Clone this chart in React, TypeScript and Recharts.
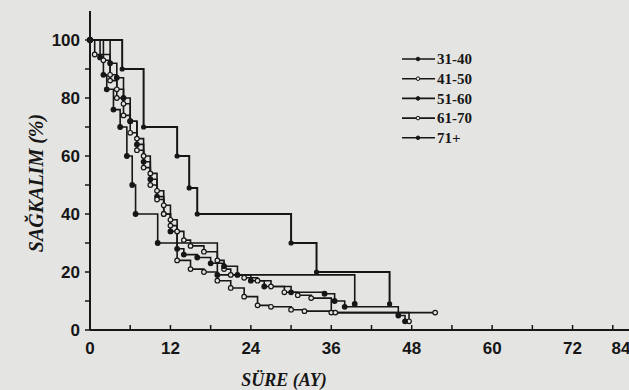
import React from 'react';
import { LineChart, Line, XAxis, YAxis, Legend } from 'recharts';

// Kaplan-Meier survival by age group (months, % surviving)
const groups = ['31-40', '41-50', '51-60', '61-70', '71+'];

const t3140 = [0, 1.5, 2, 2.5, 3.5, 4.5, 5.5, 6.3, 6.8, 10.1, 19, 39.5];
const s3140 = [100, 94, 88, 83, 76, 70, 60, 50, 40, 30, 19, 9];

const t4150 = [0, 2, 3, 4, 5, 6, 7, 8, 9, 10, 11, 12, 13, 14, 15, 17, 19, 20, 21, 23, 25, 27, 29, 31, 33, 36, 47.6];
const s4150 = [100, 93, 88, 83, 78, 72, 66, 60, 54, 48, 43, 38, 34, 31, 29, 27, 24, 21, 19, 18, 17, 15, 13, 12, 11, 6, 3];

const t5160 = [0, 3, 4, 5, 6, 7, 8, 9, 10, 11, 12, 13, 14, 16, 18, 20, 22, 24, 26, 30, 35, 36.5, 38, 46, 47];
const s5160 = [100, 92, 87, 80, 72, 64, 58, 52, 46, 40, 34, 28, 26, 25, 23, 22, 19, 17, 15, 13, 12.5, 10, 8, 5, 3];

const t6170 = [0, 0.7, 3, 4, 5, 6, 7, 8, 9, 10, 11, 12, 13, 15, 17, 19, 21, 23, 25, 27, 30, 32, 36.6, 51.5];
const s6170 = [100, 95, 86, 80, 74, 68, 62, 56, 50, 45, 40, 36, 24, 21, 20, 17, 14.5, 11.5, 8.5, 8, 7, 6.5, 6, 6];

const t71 = [0, 4.8, 8, 13, 14.8, 16, 30, 33.8, 44.7];
const s71 = [100, 90, 70, 60, 49, 40, 30, 20, 9];

const xTicks = [0, 6, 12, 18, 24, 30, 36, 42, 48, 54, 60, 66, 72, 78, 84];
const yTicks = [0, 10, 20, 30, 40, 50, 60, 70, 80, 90, 100];

const INK = '#161616';
const BG = '#e4e4e2';

const toData = (t: number[], s: number[]) => t.map((x, i) => ({ t: x, s: s[i] }));

const series = [
  { name: groups[0], data: toData(t3140, s3140), open: false, r: 2.3 },
  { name: groups[1], data: toData(t4150, s4150), open: true, r: 2.3 },
  { name: groups[2], data: toData(t5160, s5160), open: false, r: 2.3 },
  { name: groups[3], data: toData(t6170, s6170), open: true, r: 2.3 },
  { name: groups[4], data: toData(t71, s71), open: false, r: 2.0 },
];

const makeDot = (open: boolean, r: number) => (p: any) => (
  <circle
    key={`${p.index}-${p.cx}`}
    cx={p.cx}
    cy={p.cy}
    r={r}
    fill={open ? BG : INK}
    stroke={INK}
    strokeWidth={1.2}
  />
);

const XTick = (p: any) => {
  const v = p.payload.value;
  if (v % 12 !== 0) return <g />;
  const x = Math.min(p.x, 621);
  return (
    <text x={x} y={p.y} dy="0.71em" textAnchor="middle" fill={INK}
      fontFamily="'Liberation Sans', Arial, sans-serif" fontWeight="bold" fontSize={17}>
      {v}
    </text>
  );
};

const YTick = (p: any) => {
  const v = p.payload.value;
  if (v % 20 !== 0) return <g />;
  return (
    <text x={p.x} y={p.y} dy="0.36em" textAnchor="end" fill={INK}
      fontFamily="'Liberation Sans', Arial, sans-serif" fontWeight="bold" fontSize={17}>
      {v}
    </text>
  );
};

const LegendBox = () => (
  <svg width={90} height={100}>
    {series.map((s, i) => {
      const y = 10 + i * 19.7;
      return (
        <g key={s.name}>
          <line x1={2} x2={35} y1={y} y2={y} stroke={INK} strokeWidth={1.6} />
          <circle cx={18} cy={y} r={1.8} fill={s.open ? BG : INK} stroke={INK} strokeWidth={1} />
          <text x={37} y={y} dy="0.35em" fill={INK}
            fontFamily="'Liberation Serif', 'Times New Roman', serif" fontWeight="bold" fontSize={15}>
            {s.name}
          </text>
        </g>
      );
    })}
  </svg>
);

export default function App() {
  return (
    <div style={{ position: 'absolute', left: 0, top: 0, width: 629, height: 390, background: BG, overflow: 'hidden' }}>
      <LineChart width={660} height={390} margin={{ top: 11, right: 7, bottom: 30, left: 0 }}>
        <XAxis
          type="number"
          dataKey="t"
          domain={[0, 84]}
          ticks={xTicks}
          interval={0}
          allowDuplicatedCategory={false}
          height={30}
          tickSize={-5}
          tickMargin={17}
          tick={<XTick />}
          axisLine={{ stroke: INK, strokeWidth: 2 }}
          tickLine={{ stroke: INK, strokeWidth: 1.5 }}
        />
        <YAxis
          type="number"
          dataKey="s"
          domain={[0, 110]}
          ticks={yTicks}
          interval={0}
          width={90}
          tickSize={5}
          tickMargin={5}
          tick={<YTick />}
          axisLine={{ stroke: INK, strokeWidth: 2 }}
          tickLine={{ stroke: INK, strokeWidth: 1.5 }}
        />
        <Legend
          layout="vertical"
          align="center"
          verticalAlign="middle"
          content={<LegendBox />}
          wrapperStyle={{ position: 'absolute', left: 400, top: 49, width: 90, height: 100 }}
        />
        {series.map((s) => (
          <Line
            key={s.name}
            name={s.name}
            data={s.data}
            dataKey="s"
            type="stepAfter"
            stroke={INK}
            strokeWidth={s.name === '71+' ? 2 : 1.6}
            dot={makeDot(s.open, s.r)}
            activeDot={false}
            isAnimationActive={false}
          />
        ))}
      </LineChart>
      <div style={{
        position: 'absolute', left: 36, top: 183, transform: 'translate(-50%, -50%) rotate(-90deg)',
        fontFamily: "'Liberation Serif', 'Times New Roman', serif", fontWeight: 'bold', fontStyle: 'italic',
        fontSize: 20, color: INK, whiteSpace: 'nowrap',
      }}>SAĞKALIM (%)</div>
      <div style={{
        position: 'absolute', left: 284, top: 380, transform: 'translate(-50%, -50%)',
        fontFamily: "'Liberation Serif', 'Times New Roman', serif", fontWeight: 'bold', fontStyle: 'italic',
        fontSize: 18, color: INK, whiteSpace: 'nowrap',
      }}>SÜRE (AY)</div>
    </div>
  );
}
